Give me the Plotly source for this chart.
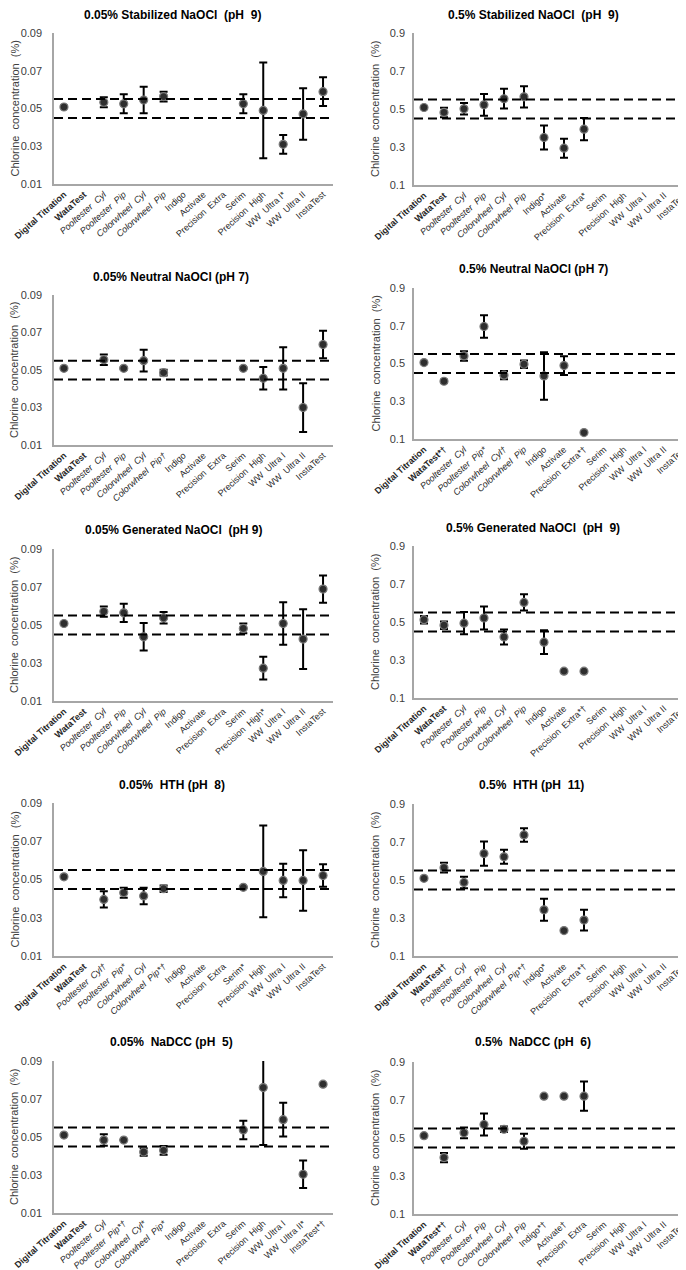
import plotly.graph_objects as go

# Kategorien (Testmethoden) in der Reihenfolge der x-Achse
CATEGORIES = ["Digital Titration", "WataTest", "Pooltester  Cyl", "Pooltester  Pip",
              "Colorwheel  Cyl", "Colorwheel  Pip", "Indigo", "Activate",
              "Precision  Extra", "Serim", "Precision  High", "WW  Ultra I",
              "WW  Ultra II", "InstaTest"]
BOLD_IDX = [0, 1]
ITALIC_IDX = [2, 3, 4, 5]

N = None

# 0.05% Stabilized NaOCl (pH 9)
STAB_LOW_MEAN = [0.0508, N, 0.0533, 0.0525, 0.0545, 0.0563, N, N, N, 0.0525, 0.0490, 0.0310, 0.0471, 0.0589]
STAB_LOW_ERR = [0.0006, N, 0.0027, 0.0050, 0.0070, 0.0026, N, N, N, 0.0050, 0.0254, 0.0050, 0.0136, 0.0076]
STAB_LOW_MARK = ["", "", "", "", "", "", "", "", "", "", "", "*", "", ""]

# 0.5% Stabilized NaOCl (pH 9)
STAB_HIGH_MEAN = [0.508, 0.482, 0.501, 0.522, 0.554, 0.564, 0.350, 0.294, 0.394, N, N, N, N, N]
STAB_HIGH_ERR = [0.006, 0.025, 0.030, 0.057, 0.052, 0.056, 0.063, 0.050, 0.059, N, N, N, N, N]
STAB_HIGH_MARK = ["", "", "", "", "", "", "*", "", "*", "", "", "", "", ""]

# 0.05% Neutral NaOCl (pH 7)
NEUT_LOW_MEAN = [0.0509, N, 0.0555, 0.0509, 0.0550, 0.0486, N, N, N, 0.0509, 0.0456, 0.0509, 0.0300, 0.0636]
NEUT_LOW_ERR = [0.0005, N, 0.0028, 0.0005, 0.0058, 0.0015, N, N, N, 0.0004, 0.0060, 0.0113, 0.0130, 0.0073]
NEUT_LOW_MARK = ["", "", "", "", "", "\u2020", "", "", "", "", "", "", "", ""]

# 0.5% Neutral NaOCl (pH 7)
NEUT_HIGH_MEAN = [0.505, 0.406, 0.540, 0.696, 0.438, 0.496, 0.434, 0.489, 0.134, N, N, N, N, N]
NEUT_HIGH_ERR = [0.005, 0.008, 0.025, 0.060, 0.022, 0.020, 0.126, 0.050, 0.004, N, N, N, N, N]
NEUT_HIGH_MARK = ["", "*\u2020", "", "*", "\u2020", "", "", "", "*\u2020", "", "", "", "", ""]

# 0.05% Generated NaOCl (pH 9)
GEN_LOW_MEAN = [0.0508, N, 0.0571, 0.0564, 0.0438, 0.0538, N, N, N, 0.0482, 0.0273, 0.0508, 0.0426, 0.0689]
GEN_LOW_ERR = [0.0005, N, 0.0027, 0.0048, 0.0072, 0.0030, N, N, N, 0.0026, 0.0060, 0.0112, 0.0157, 0.0072]
GEN_LOW_MARK = ["", "", "", "", "", "", "", "", "", "", "*", "", "", ""]

# 0.5% Generated NaOCl (pH 9)
GEN_HIGH_MEAN = [0.512, 0.483, 0.494, 0.521, 0.421, 0.603, 0.394, 0.241, 0.241, N, N, N, N, N]
GEN_HIGH_ERR = [0.020, 0.020, 0.058, 0.060, 0.040, 0.043, 0.063, 0.004, N, N, N, N, N, N]
GEN_HIGH_MARK = ["", "", "", "", "", "", "", "", "*\u2020", "", "", "", "", ""]

# 0.05% HTH (pH 8)
HTH_LOW_MEAN = [0.0514, N, 0.0396, 0.0431, 0.0414, 0.0452, N, N, N, 0.0459, 0.0542, 0.0495, 0.0495, 0.0521]
HTH_LOW_ERR = [0.0004, N, 0.0042, 0.0026, 0.0043, 0.0017, N, N, N, 0.0003, 0.0240, 0.0088, 0.0158, 0.0059]
HTH_LOW_MARK = ["", "", "\u2020", "*", "", "*\u2020", "", "", "", "*", "", "", "", ""]

# 0.5% HTH (pH 11)
HTH_HIGH_MEAN = [0.509, 0.565, 0.487, 0.639, 0.622, 0.737, 0.343, 0.234, 0.289, N, N, N, N, N]
HTH_HIGH_ERR = [0.005, 0.026, 0.030, 0.064, 0.037, 0.036, 0.058, 0.004, 0.055, N, N, N, N, N]
HTH_HIGH_MARK = ["", "\u2020", "", "", "", "*\u2020", "*", "", "*\u2020", "", "", "", "", ""]

# 0.05% NaDCC (pH 5)
DCC_LOW_MEAN = [0.0510, N, 0.0484, 0.0484, 0.0421, 0.0430, N, N, N, 0.0537, 0.0760, 0.0591, 0.0304, 0.0778]
DCC_LOW_ERR = [0.0005, N, 0.0030, N, 0.0020, 0.0023, N, N, N, 0.0049, 0.0302, 0.0089, 0.0072, 0.0005]
DCC_LOW_MARK = ["", "", "", "*\u2020", "*", "*", "", "", "", "", "", "", "*", "*\u2020"]

# 0.5% NaDCC (pH 6)
DCC_HIGH_MEAN = [0.512, 0.397, 0.527, 0.571, 0.546, 0.483, 0.720, 0.720, 0.720, N, N, N, N, N]
DCC_HIGH_ERR = [0.005, 0.024, 0.028, 0.058, 0.014, 0.040, N, 0.004, 0.077, N, N, N, N, N]
DCC_HIGH_MARK = ["", "*\u2020", "", "", "", "", "*\u2020", "\u2020", "", "", "", "", "", ""]

TITLES = ["0.05% Stabilized NaOCl  (pH  9)", "0.5% Stabilized NaOCl  (pH  9)",
          "0.05% Neutral NaOCl (pH 7)", "0.5% Neutral NaOCl (pH 7)",
          "0.05% Generated NaOCl  (pH 9)", "0.5% Generated NaOCl  (pH  9)",
          "0.05%  HTH (pH  8)", "0.5%  HTH (pH  11)",
          "0.05%  NaDCC (pH  5)", "0.5%  NaDCC (pH  6)"]

PANELS = [
    (STAB_LOW_MEAN, STAB_LOW_ERR, STAB_LOW_MARK),
    (STAB_HIGH_MEAN, STAB_HIGH_ERR, STAB_HIGH_MARK),
    (NEUT_LOW_MEAN, NEUT_LOW_ERR, NEUT_LOW_MARK),
    (NEUT_HIGH_MEAN, NEUT_HIGH_ERR, NEUT_HIGH_MARK),
    (GEN_LOW_MEAN, GEN_LOW_ERR, GEN_LOW_MARK),
    (GEN_HIGH_MEAN, GEN_HIGH_ERR, GEN_HIGH_MARK),
    (HTH_LOW_MEAN, HTH_LOW_ERR, HTH_LOW_MARK),
    (HTH_HIGH_MEAN, HTH_HIGH_ERR, HTH_HIGH_MARK),
    (DCC_LOW_MEAN, DCC_LOW_ERR, DCC_LOW_MARK),
    (DCC_HIGH_MEAN, DCC_HIGH_ERR, DCC_HIGH_MARK),
]

LOW_TICKS = [0.01, 0.03, 0.05, 0.07, 0.09]
HIGH_TICKS = [0.1, 0.3, 0.5, 0.7, 0.9]
LOW_BAND = [0.045, 0.055]
HIGH_BAND = [0.45, 0.55]

# Layout in Pixeln (Fenster 686x1270)
W, H = 686, 1270
X_SPANS = [(46, 325), (406, 686)]
Y_SPANS = [[(25, 176), (25, 177)], [(287, 437), (280, 431)], [(541, 693), (538, 690)],
           [(795, 948), (796, 948)], [(1053, 1205), (1054, 1206)]]
TITLE_POS = [[(164, 7), (525, 7)], [(163, 269), (525, 261)], [(165, 522), (525, 520)],
             [(164, 777), (523, 777)], [(163, 1034), (525, 1034)]]
YTITLE_X = [6, 367]
YTICK_GAP = [8, 5]

FONT = "Liberation Sans Narrow, Liberation Sans"


def fmt_label(i, mark):
    txt = CATEGORIES[i] + mark
    if i in BOLD_IDX:
        return "<b>" + txt + "</b>"
    if i in ITALIC_IDX:
        return "<i>" + txt + "</i>"
    return txt


fig = go.Figure()
shapes = []
annotations = []

for p, (mean, err, marks) in enumerate(PANELS):
    row, col = divmod(p, 2)
    k = p + 1
    xs = "" if k == 1 else str(k)
    low = col == 0
    ticks = LOW_TICKS if low else HIGH_TICKS
    band = LOW_BAND if low else HIGH_BAND

    xi = [i for i in range(len(CATEGORIES)) if mean[i] is not None]
    fig.add_trace(go.Scatter(
        x=xi, y=[mean[i] for i in xi],
        mode="markers",
        marker=dict(color="#2e2e2e", size=8, line=dict(color="#7a7a7a", width=1.2)),
        error_y=dict(type="data", array=[err[i] for i in xi], color="black",
                     thickness=2, width=4),
        xaxis="x" + xs, yaxis="y" + xs, showlegend=False, hoverinfo="skip",
    ))

    x0, x1 = X_SPANS[col]
    yt, yb = Y_SPANS[row][col]
    fig.layout["xaxis" + xs] = dict(
        domain=[x0 / W, x1 / W], anchor="y" + xs, range=[-0.5, 13.5],
        tickvals=list(range(len(CATEGORIES))),
        ticktext=[fmt_label(i, marks[i]) for i in range(len(CATEGORIES))],
        tickangle=-42, showgrid=False, zeroline=False, showline=True,
        linecolor="#a6a6a6", linewidth=1.5, ticks="", automargin=False,
        tickfont=dict(family=FONT, size=9, color="#262626"), fixedrange=True,
    )
    fig.layout["yaxis" + xs] = dict(
        domain=[1 - yb / H, 1 - yt / H], anchor="x" + xs,
        range=[ticks[0], ticks[-1]], tickvals=ticks,
        ticktext=[f"{t:g}" for t in ticks], automargin=False,
        showgrid=False, zeroline=False, showline=True,
        linecolor="#a6a6a6", linewidth=1.5,
        ticks="outside", ticklen=YTICK_GAP[col], tickcolor="rgba(0,0,0,0)",
        tickfont=dict(family=FONT, size=11, color="#404040"), fixedrange=True,
    )

    for b in band:
        shapes.append(dict(type="line", xref="x" + xs + " domain", yref="y" + xs,
                           x0=0, x1=1, y0=b, y1=b,
                           line=dict(color="black", width=2, dash="9px,5px")))

    tx, ty = TITLE_POS[row][col]
    annotations.append(dict(text="<b>" + TITLES[p] + "</b>", x=tx / W, y=1 - ty / H,
                            xref="paper", yref="paper", showarrow=False,
                            xanchor="center", yanchor="middle",
                            font=dict(family=FONT, size=12, color="black")))
    annotations.append(dict(text="Chlorine  concentration  (%)", textangle=-90,
                            x=YTITLE_X[col] / W, y=1 - (yt + yb) / 2 / H,
                            xref="paper", yref="paper", showarrow=False,
                            xanchor="center", yanchor="middle",
                            font=dict(family=FONT, size=11, color="#404040")))

fig.update_layout(
    template="none",
    width=W, height=H, margin=dict(l=0, r=0, t=0, b=0, autoexpand=False),
    paper_bgcolor="white", plot_bgcolor="white",
    shapes=shapes, annotations=annotations,
    font=dict(family=FONT),
)

fig.write_html("out.html")
